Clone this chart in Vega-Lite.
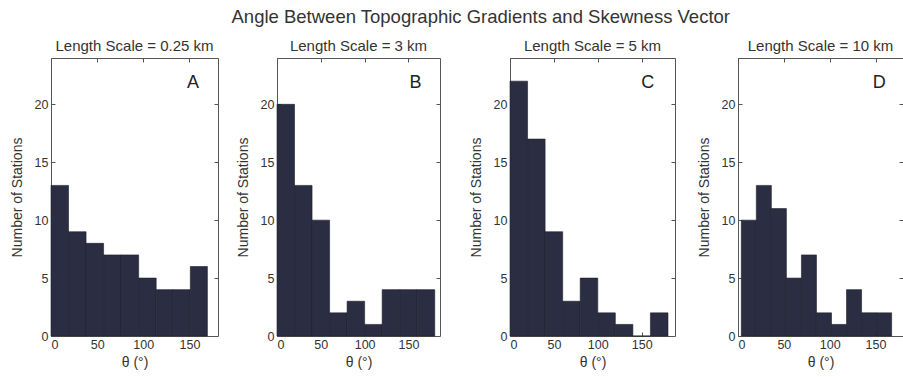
{
  "$schema": "https://vega.github.io/schema/vega-lite/v6.json",
  "padding": {"left": 9, "top": 7, "right": 0, "bottom": 2},
  "background": "white",
  "title": {"text": "Angle Between Topographic Gradients and Skewness Vector", "fontSize": 18.5, "font": "Liberation Sans", "fontWeight": "normal", "color": "#333", "anchor": "middle", "offset": 12, "dx": 24},
  "datasets": {
    "hist": [
      {"panel": "A", "start": 0, "end": 19, "count": 13},
      {"panel": "A", "start": 19, "end": 38, "count": 9},
      {"panel": "A", "start": 38, "end": 57, "count": 8},
      {"panel": "A", "start": 57, "end": 76, "count": 7},
      {"panel": "A", "start": 76, "end": 95, "count": 7},
      {"panel": "A", "start": 95, "end": 114, "count": 5},
      {"panel": "A", "start": 114, "end": 132.5, "count": 4},
      {"panel": "A", "start": 132.5, "end": 151, "count": 4},
      {"panel": "A", "start": 151, "end": 169.5, "count": 6},
      {"panel": "B", "start": 0, "end": 20, "count": 20},
      {"panel": "B", "start": 20, "end": 40, "count": 13},
      {"panel": "B", "start": 40, "end": 60, "count": 10},
      {"panel": "B", "start": 60, "end": 80, "count": 2},
      {"panel": "B", "start": 80, "end": 100, "count": 3},
      {"panel": "B", "start": 100, "end": 120, "count": 1},
      {"panel": "B", "start": 120, "end": 140, "count": 4},
      {"panel": "B", "start": 140, "end": 160, "count": 4},
      {"panel": "B", "start": 160, "end": 180, "count": 4},
      {"panel": "C", "start": 0, "end": 20, "count": 22},
      {"panel": "C", "start": 20, "end": 40, "count": 17},
      {"panel": "C", "start": 40, "end": 60, "count": 9},
      {"panel": "C", "start": 60, "end": 80, "count": 3},
      {"panel": "C", "start": 80, "end": 100, "count": 5},
      {"panel": "C", "start": 100, "end": 120, "count": 2},
      {"panel": "C", "start": 120, "end": 140, "count": 1},
      {"panel": "C", "start": 140, "end": 160, "count": 0},
      {"panel": "C", "start": 160, "end": 180, "count": 2},
      {"panel": "D", "start": 3.6, "end": 20, "count": 10},
      {"panel": "D", "start": 20, "end": 36.4, "count": 13},
      {"panel": "D", "start": 36.4, "end": 52.8, "count": 11},
      {"panel": "D", "start": 52.8, "end": 69.2, "count": 5},
      {"panel": "D", "start": 69.2, "end": 85.6, "count": 7},
      {"panel": "D", "start": 85.6, "end": 102, "count": 2},
      {"panel": "D", "start": 102, "end": 118.4, "count": 1},
      {"panel": "D", "start": 118.4, "end": 134.8, "count": 4},
      {"panel": "D", "start": 134.8, "end": 151.2, "count": 2},
      {"panel": "D", "start": 151.2, "end": 167.6, "count": 2}
    ]
  },
  "data": {"name": "hist"},
  "spacing": 16,
  "config": {
    "font": "Liberation Sans",
    "view": {"stroke": "#555", "strokeWidth": 1},
    "title": {"fontSize": 15, "fontWeight": "normal", "color": "#333", "font": "Liberation Sans", "offset": 4},
    "axis": {
      "domain": false, "grid": false,
      "tickSize": -4, "tickColor": "#555", "tickWidth": 1,
      "labelFont": "Liberation Sans", "labelFontSize": 12.5, "labelColor": "#333",
      "titleFont": "Liberation Sans", "titleFontSize": 14, "titleFontWeight": "normal", "titleColor": "#333"
    }
  },
  "hconcat": [
    {
      "width": 167, "height": 278,
      "title": "Length Scale = 0.25 km",
      "transform": [{"filter": "datum.panel == 'A'"}],
      "layer": [
        {"mark": {"type": "rect", "color": "#2b2d42", "stroke": "#1c1e2c", "strokeWidth": 0.6},
         "encoding": {
           "x": {"field": "start", "type": "quantitative", "scale": {"domain": [0, 181], "nice": false, "zero": false}, "axis": {"orient": "bottom", "values": [0, 50, 100, 150], "title": "θ (°)", "labelPadding": 6, "titlePadding": 5}},
           "x2": {"field": "end"},
           "y": {"field": "count", "type": "quantitative", "scale": {"domain": [0, 24], "nice": false}, "axis": {"orient": "left", "values": [0, 5, 10, 15, 20], "title": "Number of Stations", "labelPadding": 7, "minExtent": 20, "maxExtent": 20, "titlePadding": 7}},
           "y2": {"datum": 0}
         }},
        {"mark": {"type": "point", "opacity": 0},
         "encoding": {
           "x": {"field": "start", "type": "quantitative", "axis": {"orient": "top", "values": [0, 50, 100, 150], "labels": false, "title": null, "minExtent": 0, "maxExtent": 0}},
           "y": {"field": "count", "type": "quantitative", "axis": {"orient": "right", "values": [5, 10, 15, 20], "labels": false, "title": null, "minExtent": 0, "maxExtent": 0}}
         }},
        {"data": {"values": [{}]},
         "mark": {"type": "text", "fontSize": 18, "color": "#222", "font": "Liberation Sans"},
         "encoding": {
           "x": {"datum": 154, "type": "quantitative", "axis": null},
           "y": {"datum": 21.8, "type": "quantitative", "axis": null},
           "text": {"value": "A"}
         }}
      ],
      "resolve": {"axis": {"x": "independent", "y": "independent"}}
    },
    {
      "width": 163, "height": 278,
      "title": "Length Scale = 3 km",
      "transform": [{"filter": "datum.panel == 'B'"}],
      "layer": [
        {"mark": {"type": "rect", "color": "#2b2d42", "stroke": "#1c1e2c", "strokeWidth": 0.6},
         "encoding": {
           "x": {"field": "start", "type": "quantitative", "scale": {"domain": [0, 186], "nice": false, "zero": false}, "axis": {"orient": "bottom", "values": [0, 50, 100, 150], "title": "θ (°)", "labelPadding": 6, "titlePadding": 5}},
           "x2": {"field": "end"},
           "y": {"field": "count", "type": "quantitative", "scale": {"domain": [0, 24], "nice": false}, "axis": {"orient": "left", "values": [0, 5, 10, 15, 20], "title": "Number of Stations", "labelPadding": 7, "minExtent": 20, "maxExtent": 20, "titlePadding": 7}},
           "y2": {"datum": 0}
         }},
        {"mark": {"type": "point", "opacity": 0},
         "encoding": {
           "x": {"field": "start", "type": "quantitative", "axis": {"orient": "top", "values": [0, 50, 100, 150], "labels": false, "title": null, "minExtent": 0, "maxExtent": 0}},
           "y": {"field": "count", "type": "quantitative", "axis": {"orient": "right", "values": [5, 10, 15, 20], "labels": false, "title": null, "minExtent": 11, "maxExtent": 11}}
         }},
        {"data": {"values": [{}]},
         "mark": {"type": "text", "fontSize": 18, "color": "#222", "font": "Liberation Sans"},
         "encoding": {
           "x": {"datum": 158, "type": "quantitative", "axis": null},
           "y": {"datum": 21.8, "type": "quantitative", "axis": null},
           "text": {"value": "B"}
         }}
      ],
      "resolve": {"axis": {"x": "independent", "y": "independent"}}
    },
    {
      "width": 165, "height": 278,
      "title": "Length Scale = 5 km",
      "transform": [{"filter": "datum.panel == 'C'"}],
      "layer": [
        {"mark": {"type": "rect", "color": "#2b2d42", "stroke": "#1c1e2c", "strokeWidth": 0.6},
         "encoding": {
           "x": {"field": "start", "type": "quantitative", "scale": {"domain": [0, 188], "nice": false, "zero": false}, "axis": {"orient": "bottom", "values": [0, 50, 100, 150], "title": "θ (°)", "labelPadding": 6, "titlePadding": 5}},
           "x2": {"field": "end"},
           "y": {"field": "count", "type": "quantitative", "scale": {"domain": [0, 24], "nice": false}, "axis": {"orient": "left", "values": [0, 5, 10, 15, 20], "title": "Number of Stations", "labelPadding": 7, "minExtent": 20, "maxExtent": 20, "titlePadding": 7}},
           "y2": {"datum": 0}
         }},
        {"mark": {"type": "point", "opacity": 0},
         "encoding": {
           "x": {"field": "start", "type": "quantitative", "axis": {"orient": "top", "values": [0, 50, 100, 150], "labels": false, "title": null, "minExtent": 0, "maxExtent": 0}},
           "y": {"field": "count", "type": "quantitative", "axis": {"orient": "right", "values": [5, 10, 15, 20], "labels": false, "title": null, "minExtent": 4, "maxExtent": 4}}
         }},
        {"data": {"values": [{}]},
         "mark": {"type": "text", "fontSize": 18, "color": "#222", "font": "Liberation Sans"},
         "encoding": {
           "x": {"datum": 157, "type": "quantitative", "axis": null},
           "y": {"datum": 21.8, "type": "quantitative", "axis": null},
           "text": {"value": "C"}
         }}
      ],
      "resolve": {"axis": {"x": "independent", "y": "independent"}}
    },
    {
      "width": 165, "height": 278,
      "title": "Length Scale = 10 km",
      "transform": [{"filter": "datum.panel == 'D'"}],
      "layer": [
        {"mark": {"type": "rect", "color": "#2b2d42", "stroke": "#1c1e2c", "strokeWidth": 0.6},
         "encoding": {
           "x": {"field": "start", "type": "quantitative", "scale": {"domain": [0, 180], "nice": false, "zero": false}, "axis": {"orient": "bottom", "values": [0, 50, 100, 150], "title": "θ (°)", "labelPadding": 6, "titlePadding": 5}},
           "x2": {"field": "end"},
           "y": {"field": "count", "type": "quantitative", "scale": {"domain": [0, 24], "nice": false}, "axis": {"orient": "left", "values": [0, 5, 10, 15, 20], "title": "Number of Stations", "labelPadding": 7, "minExtent": 20, "maxExtent": 20, "titlePadding": 7}},
           "y2": {"datum": 0}
         }},
        {"mark": {"type": "point", "opacity": 0},
         "encoding": {
           "x": {"field": "start", "type": "quantitative", "axis": {"orient": "top", "values": [0, 50, 100, 150], "labels": false, "title": null, "minExtent": 0, "maxExtent": 0}},
           "y": {"field": "count", "type": "quantitative", "axis": {"orient": "right", "values": [5, 10, 15, 20], "labels": false, "title": null, "minExtent": 0, "maxExtent": 0}}
         }},
        {"data": {"values": [{}]},
         "mark": {"type": "text", "fontSize": 18, "color": "#222", "font": "Liberation Sans"},
         "encoding": {
           "x": {"datum": 154, "type": "quantitative", "axis": null},
           "y": {"datum": 21.8, "type": "quantitative", "axis": null},
           "text": {"value": "D"}
         }}
      ],
      "resolve": {"axis": {"x": "independent", "y": "independent"}}
    }
  ]
}
